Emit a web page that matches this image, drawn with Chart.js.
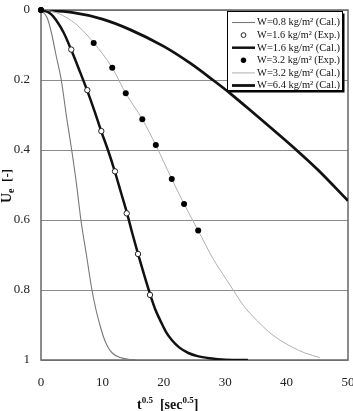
<!DOCTYPE html>
<html>
<head>
<meta charset="utf-8">
<script src="https://cdn.jsdelivr.net/npm/chart.js@4"></script>
<style>
  html, body { margin: 0; padding: 0; background: #fff; }
</style>
</head>
<body>
<canvas id="chart" width="353" height="411"></canvas>
<script>
const serif = '"Liberation Serif", "Times New Roman", serif';

// W=0.8 kg/m2 (Cal.)
const cal08T = [0, 1, 1.7, 2.4, 3.3, 4.2, 5.0, 5.8, 6.5, 7.4, 8.3, 9.0, 9.6, 10.2, 10.8, 11.6, 12.9, 14.2, 15.6];
const cal08U = [0, 0.022, 0.065, 0.125, 0.2, 0.31, 0.4, 0.5, 0.6, 0.7, 0.8, 0.86, 0.9, 0.935, 0.96, 0.98, 0.993, 0.998, 1];

// W=1.6 kg/m2 (Exp.) and (Cal.)
const exp16T = [0, 4.93, 7.54, 9.82, 12.05, 13.96, 15.8, 17.75];
const exp16U = [0, 0.113, 0.229, 0.346, 0.461, 0.581, 0.697, 0.814];
const cal16T = [0, 1.5, 2.5, 3.7, 4.9, 6.2, 7.5, 8.7, 9.8, 11.0, 12.0, 13.0, 14.0, 14.9, 15.8, 16.8, 17.8, 18.6, 19.4, 20.3, 21.3, 22.5, 24.0, 25.5, 27.5, 30.0, 33.7];
const cal16U = [0, 0.01, 0.03, 0.065, 0.113, 0.17, 0.229, 0.288, 0.346, 0.405, 0.46, 0.52, 0.58, 0.64, 0.697, 0.757, 0.814, 0.855, 0.886, 0.918, 0.943, 0.964, 0.98, 0.989, 0.995, 0.999, 1];

// W=3.2 kg/m2 (Exp.) and (Cal.)
const exp32T = [0, 8.58, 11.6, 13.8, 16.5, 18.7, 21.3, 23.3, 25.6];
const exp32U = [0, 0.094, 0.165, 0.238, 0.312, 0.386, 0.483, 0.554, 0.63];
const cal32T = [0, 2, 4, 6, 8.6, 11.6, 13.8, 16.5, 18.7, 21.3, 23.3, 25.6, 28.0, 30.0, 31.3, 33.0, 35.1, 37.0, 38.9, 41.0, 43.0, 45.4];
const cal32U = [0, 0.005, 0.02, 0.045, 0.094, 0.165, 0.238, 0.312, 0.386, 0.483, 0.554, 0.63, 0.71, 0.765, 0.8, 0.845, 0.886, 0.918, 0.943, 0.964, 0.98, 0.993];

// W=6.4 kg/m2 (Cal.)
const cal64T = [0, 5, 10, 14.5, 20, 24.3, 28, 30.8, 35, 38, 41.6, 45, 50];
const cal64U = [0, 0.007, 0.026, 0.056, 0.104, 0.152, 0.2, 0.238, 0.3, 0.345, 0.4, 0.455, 0.545];

const legendLabels = [
  "W=0.8 kg/m\u00b2 (Cal.)",
  "W=1.6 kg/m\u00b2 (Exp.)",
  "W=1.6 kg/m\u00b2 (Cal.)",
  "W=3.2 kg/m\u00b2 (Exp.)",
  "W=3.2 kg/m\u00b2 (Cal.)",
  "W=6.4 kg/m\u00b2 (Cal.)"
];
const xTicks = [0, 10, 20, 30, 40, 50];
const yTicks = [0, 0.2, 0.4, 0.6, 0.8, 1];

function pairs(xs, ys) {
  return xs.map((x, i) => ({ x: x, y: ys[i] }));
}

function calLine(label, xs, ys, color, width) {
  return {
    label: label, data: pairs(xs, ys), showLine: true,
    borderColor: color, borderWidth: width, pointRadius: 0,
    cubicInterpolationMode: "monotone", order: 2
  };
}

// frame around the plot area
const framePlugin = {
  id: "frame",
  beforeDatasetsDraw(chart) {
    const { ctx, chartArea: a } = chart;
    ctx.save();
    ctx.strokeStyle = "#666";
    ctx.lineWidth = 1.5;
    ctx.strokeRect(a.left, a.top, a.right - a.left, a.bottom - a.top);
    ctx.restore();
  }
};

// axis titles with sub/superscripts
const titlePlugin = {
  id: "titles",
  afterDraw(chart) {
    const { ctx, chartArea: a } = chart;
    ctx.save();
    ctx.fillStyle = "#111";
    ctx.textBaseline = "alphabetic";

    let x = a.left + 96;
    const base = 409;
    const parts = [
      ["t", 14, 0], ["0.5", 9, -6], ["  [sec", 14, 0], ["0.5", 9, -6], ["]", 14, 0]
    ];
    parts.forEach(p => {
      ctx.font = "bold " + p[1] + "px " + serif;
      ctx.fillText(p[0], x, base + p[2]);
      x += ctx.measureText(p[0]).width;
    });

    ctx.translate(11, 203);
    ctx.rotate(-Math.PI / 2);
    let y = 0;
    const yparts = [["U", 14, 0], ["e", 10, 3], ["  [-]", 13, 0]];
    yparts.forEach(p => {
      ctx.font = "bold " + p[1] + "px " + serif;
      ctx.fillText(p[0], y, p[2]);
      y += ctx.measureText(p[0]).width;
    });
    ctx.restore();
  }
};

// boxed legend with a drop shadow, inside the plot
const legendPlugin = {
  id: "boxLegend",
  afterDraw(chart) {
    const ctx = chart.ctx;
    const bx = 227, by = 11, bw = 115, bh = 79;
    ctx.save();
    ctx.fillStyle = "#000";
    ctx.fillRect(bx + 2.5, by + 2.5, bw, bh);
    ctx.fillStyle = "#fff";
    ctx.fillRect(bx, by, bw, bh);
    ctx.strokeStyle = "#000";
    ctx.lineWidth = 1;
    ctx.strokeRect(bx + 0.5, by + 0.5, bw, bh);

    ctx.font = "11px " + serif;
    ctx.textBaseline = "middle";
    chart.data.datasets.forEach((ds, i) => {
      const cy = by + 11.5 + i * 12.6;
      if (ds.showLine) {
        ctx.strokeStyle = ds.borderColor;
        ctx.lineWidth = ds.borderWidth;
        ctx.beginPath();
        ctx.moveTo(232, cy);
        ctx.lineTo(255, cy);
        ctx.stroke();
      } else {
        ctx.beginPath();
        ctx.arc(243.5, cy, ds.pointRadius - 0.3, 0, Math.PI * 2);
        ctx.fillStyle = ds.backgroundColor;
        ctx.fill();
        ctx.strokeStyle = ds.borderColor;
        ctx.lineWidth = ds.borderWidth;
        if (ds.borderWidth) ctx.stroke();
      }
      ctx.fillStyle = "#111";
      ctx.fillText(ds.label, 257, cy, 83);
    });
    ctx.restore();
  }
};

new Chart(document.getElementById("chart"), {
  type: "scatter",
  data: {
    datasets: [
      calLine(legendLabels[0], cal08T, cal08U, "#777", 1.1),
      {
        label: legendLabels[1], data: pairs(exp16T, exp16U),
        pointRadius: 2.7, borderWidth: 1, borderColor: "#222", backgroundColor: "#fff",
        clip: false, order: 1
      },
      calLine(legendLabels[2], cal16T, cal16U, "#111", 2.5),
      {
        label: legendLabels[3], data: pairs(exp32T, exp32U),
        pointRadius: 3, borderWidth: 0, borderColor: "#000", backgroundColor: "#000",
        clip: false, order: 0
      },
      calLine(legendLabels[4], cal32T, cal32U, "#b0b0b0", 1),
      calLine(legendLabels[5], cal64T, cal64U, "#111", 2.8)
    ]
  },
  options: {
    responsive: false,
    animation: false,
    events: [],
    layout: { padding: { top: 10, right: 5, left: 0, bottom: 0 } },
    plugins: { legend: { display: false }, tooltip: { enabled: false } },
    scales: {
      x: {
        type: "linear", min: 0, max: 50,
        afterBuildTicks: s => { s.ticks = xTicks.map(v => ({ value: v })); },
        afterFit: s => { s.height = 51; s.paddingLeft = 0; s.paddingRight = 0; },
        grid: { display: false, drawTicks: false },
        border: { display: false },
        ticks: { padding: 15, color: "#222", font: { family: serif, size: 13 } }
      },
      y: {
        type: "linear", min: 0, max: 1, reverse: true,
        afterBuildTicks: s => { s.ticks = yTicks.map(v => ({ value: v })); },
        afterFit: s => { s.width = 41; s.paddingTop = 0; s.paddingBottom = 0; },
        grid: { color: "#8c8c8c", lineWidth: 1, drawTicks: false },
        border: { display: false },
        ticks: {
          padding: 11, color: "#222", font: { family: serif, size: 13 },
          callback: v => String(v)
        }
      }
    }
  },
  plugins: [framePlugin, titlePlugin, legendPlugin]
});
</script>
</body>
</html>
